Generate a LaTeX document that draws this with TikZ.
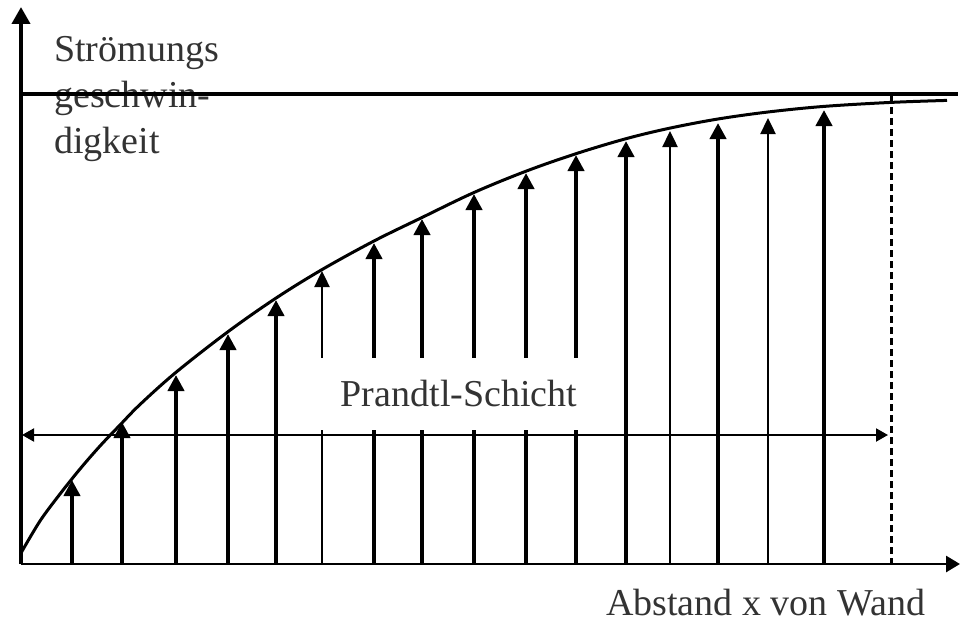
\documentclass[tikz,border=0pt]{standalone}
\usepackage{fontspec}
\setmainfont{Liberation Serif}
\usetikzlibrary{arrows.meta}
\tikzset{
  lbl/.style={inner sep=0pt, text=black!80, font=\fontsize{38}{45.5}\selectfont},
  axis/.style={line width=4pt, -{Triangle[width=18pt,length=17pt]}},
  velthick/.style={line width=4.2pt, -{Triangle[width=16pt,length=16pt]}},
  velthin/.style={line width=2.4pt, -{Triangle[width=15pt,length=16pt]}},
  layer/.style={line width=2pt, {Triangle[width=13pt,length=12pt]}-{Triangle[width=13pt,length=12pt]}},
}
\begin{document}
\begin{tikzpicture}[x=1pt,y=-1pt]
\useasboundingbox (0,0) rectangle (960,623);
% axis label text (drawn under the top line)
\node[lbl, anchor=base west] (s1) at (54,62) {Strömungs};
\node[lbl, anchor=base west] (s2) at (54,107.5) {geschwin-};
\node[lbl, anchor=base west] (s3) at (54,153) {digkeit};
% axes
\coordinate (O) at (21,564);
\coordinate (Ytop) at (21,7);
\coordinate (Xend) at (960,564);
\coordinate (Lleft) at (21,94);
\coordinate (Lright) at (958,94);
\draw[axis] (O) -- (Ytop);
\draw[line width=2.8pt, -{Triangle[width=16pt,length=14pt]}] (O) -- (Xend);
\draw[line width=4pt] (Lleft) -- (Lright);
% velocity arrows
\foreach \x/\t/\s in {72/480/velthick,122/422/velthick,176/375/velthick,228/334/velthick,
  276/300/velthick,322/271/velthin,374/243/velthick,422/219/velthick,474/194/velthick,
  526/173/velthick,576/155/velthick,626/141/velthick,670/131/velthin,718/123/velthick,
  768/118/velthin,824/110/velthick}{
  \coordinate (b\x) at (\x,564);
  \coordinate (t\x) at (\x,\t);
  \draw[\s] (b\x) -- (t\x);
}
% profile curve
\draw[line width=3pt, line join=round] plot[smooth, tension=0.55] coordinates {
 (21,553) (40,521) (60,494) (80,469) (100,446) (120,425) (140,404.5) (176,372.3)
 (228,331.7) (276,298.1) (322,269.6) (374,241) (422,217.5) (474,192.5) (526,171.2)
 (576,153.7) (626,138.7) (670,128.1) (718,119) (768,112) (824,106.4) (891,102.4) (947,100.4)};
% dashed boundary
\coordinate (Dtop) at (891,96);
\coordinate (Dbot) at (891,564);
\draw[line width=3pt, dash pattern=on 7pt off 4pt] (Dtop) -- (Dbot);
% Prandtl layer
\coordinate (Pl) at (22,435);
\coordinate (Pr) at (888,435);
\draw[layer] (Pl) -- (Pr);
\node[lbl, fill=white, minimum width=285pt, minimum height=72pt] (prandtl) at (459,394) {};
\node[lbl, anchor=base] (ptext) at (459,406) {Prandtl-Schicht};
% x label
\node[lbl, anchor=base west] (xl) at (606,615) {Abstand x von Wand};
\end{tikzpicture}
\end{document}
